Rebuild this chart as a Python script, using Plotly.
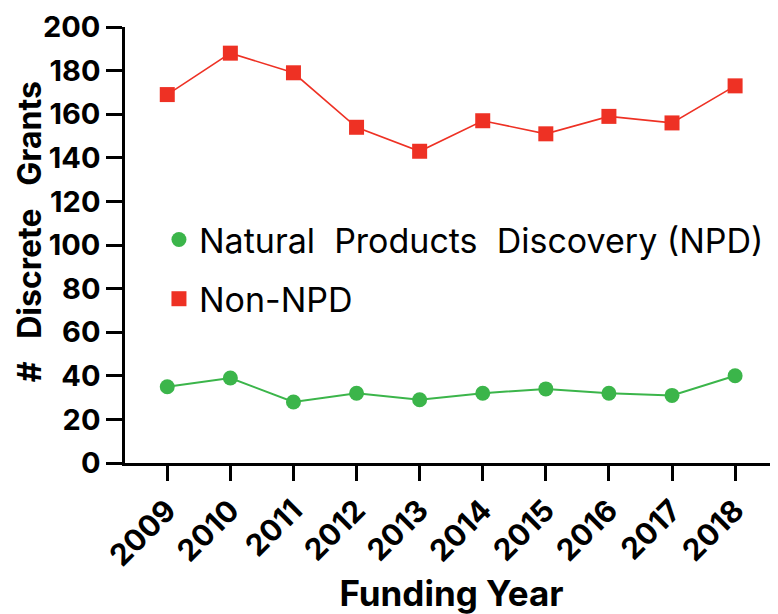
import plotly.graph_objects as go

years = [2009, 2010, 2011, 2012, 2013, 2014, 2015, 2016, 2017, 2018]
npd = [35, 39, 28, 32, 29, 32, 34, 32, 31, 40]
non_npd = [169, 188, 179, 154, 143, 157, 151, 159, 156, 173]
y_ticks = [0, 20, 40, 60, 80, 100, 120, 140, 160, 180, 200]
npd_name = "Natural  Products  Discovery (NPD)"
non_npd_name = "Non-NPD"

GREEN = "#3BB54A"
RED = "#EE3124"
FONT = "Inter, Liberation Sans, Arial, sans-serif"

fig = go.Figure()
fig.add_trace(go.Scatter(
    x=years, y=npd, mode="lines+markers", showlegend=False,
    line=dict(color=GREEN, width=2),
    marker=dict(symbol="circle", size=15, color=GREEN),
))
fig.add_trace(go.Scatter(
    x=years, y=non_npd, mode="lines+markers", showlegend=False,
    line=dict(color=RED, width=1.6),
    marker=dict(symbol="square", size=15, color=RED),
))
# legend entries (marker only, as in the reference)
fig.add_trace(go.Scatter(
    x=[None], y=[None], mode="markers", name=npd_name, legendgroup="a",
    marker=dict(symbol="circle", size=15, color=GREEN),
))
fig.add_trace(go.Scatter(
    x=[None], y=[None], mode="markers", name=non_npd_name, legendgroup="b",
    marker=dict(symbol="square", size=15, color=RED),
))

fig.update_layout(
    width=770, height=606,
    margin=dict(l=117, r=0, t=19, b=151),
    paper_bgcolor="white", plot_bgcolor="white",
    font=dict(family=FONT, color="black"),
    showlegend=True,
    legend=dict(
        x=0.052, y=0.444, xanchor="left", yanchor="middle",
        font=dict(size=34, family=FONT, color="black"),
        traceorder="grouped", tracegroupgap=12,
        bgcolor="rgba(0,0,0,0)", itemsizing="trace",
    ),
    xaxis=dict(
        range=[2008.33, 2018.68],
        tickmode="array", tickvals=years, ticktext=[str(y) for y in years],
        tickangle=-45,
        tickfont=dict(size=30, family=FONT, color="black", weight="bold"),
        showline=True, linecolor="black", linewidth=2.5,
        ticks="outside", ticklen=15, tickwidth=2.5, tickcolor="black",
        showgrid=False, zeroline=False,
        title=dict(text="Funding Year", font=dict(size=35, family=FONT, weight="bold"), standoff=12),
    ),
    yaxis=dict(
        range=[0, 200],
        tickmode="array", tickvals=y_ticks,
        tickfont=dict(size=29, family=FONT, color="black", weight="bold"),
        showline=True, linecolor="black", linewidth=2.5,
        ticks="outside", ticklen=16, tickwidth=2.5, tickcolor="black",
        showgrid=False, zeroline=False,
    ),
    annotations=[dict(
        text="#   Discrete   Grants", textangle=-90,
        xref="paper", yref="paper", x=-0.145, y=0.53,
        xanchor="center", yanchor="middle", showarrow=False,
        font=dict(size=32, family=FONT, color="black", weight="bold"),
    )],
)

fig.write_html("out.html")
